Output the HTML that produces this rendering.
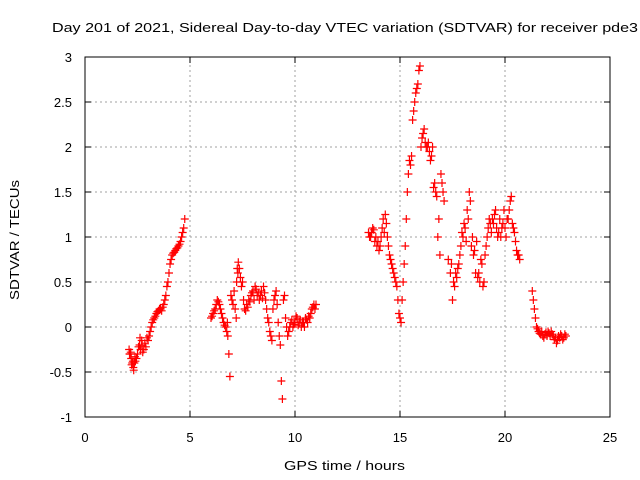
<!DOCTYPE html>
<html><head><meta charset="utf-8"><style>
body{margin:0;background:#fff}
svg{display:block;font-family:"Liberation Sans",sans-serif;font-size:13px}
</style></head><body>
<svg id="c" width="640" height="480">
<text x="52" y="32" textLength="586" lengthAdjust="spacingAndGlyphs">Day 201 of 2021, Sidereal Day-to-day VTEC variation (SDTVAR) for receiver pde3</text>
<text x="284" y="470" textLength="121" lengthAdjust="spacingAndGlyphs">GPS time / hours</text>
<text transform="translate(19,300) rotate(-90)" textLength="120" lengthAdjust="spacingAndGlyphs">SDTVAR / TECUs</text>
<g id="grid"></g><g id="pts"></g><g id="axes"></g>
</svg>
<script>
const xTicks=[0,5,10,15,20,25];
const yTicks=[-1,-0.5,0,0.5,1,1.5,2,2.5,3];
const yTickLabels=["-1","-0.5","0","0.5","1","1.5","2","2.5","3"];
const times=[2.1,2.15,2.2,2.25,2.3,2.35,2.4,2.5,2.6,2.7,2.8,2.9,3.0,3.1,3.2,3.3,3.4,3.5,3.6,3.7,3.8,3.9,4.0,4.1,4.2,4.3,4.4,4.5,4.6,4.65,4.7,4.75,
6.0,6.1,6.2,6.3,6.4,6.5,6.6,6.7,6.8,6.85,6.9,7.0,7.1,7.2,7.25,7.3,7.4,7.5,7.6,7.7,7.8,7.9,8.0,8.1,8.2,8.3,8.4,8.5,8.6,8.7,8.8,8.9,9.0,9.1,9.2,9.3,9.35,9.4,9.5,9.6,9.7,9.8,9.9,10.0,10.1,10.2,10.3,10.4,10.5,10.6,10.7,10.8,10.9,11.0,
13.5,13.6,13.7,13.8,13.9,14.0,14.1,14.2,14.3,14.4,14.5,14.6,14.7,14.8,14.9,15.0,15.05,15.1,15.2,15.3,15.35,15.4,15.5,15.6,15.7,15.8,15.9,15.95,16.0,16.1,16.2,16.3,16.4,16.5,16.6,16.7,16.8,16.9,17.0,17.1,17.3,17.4,17.5,17.6,17.7,17.8,17.9,18.0,18.1,18.2,18.3,18.4,18.5,18.6,18.7,18.8,18.9,19.0,19.1,19.2,19.3,19.4,19.5,19.6,19.7,19.8,19.9,20.0,20.1,20.2,20.3,20.4,20.5,20.6,20.7,21.3,21.35,21.4,21.5,21.6,21.7,21.8,21.9,22.0,22.1,22.2,22.3,22.4,22.5,22.6,22.7,22.8,22.9];
const values=[-0.25,-0.3,-0.35,-0.4,-0.45,-0.4,-0.38,-0.3,-0.2,-0.15,-0.25,-0.22,-0.15,-0.05,0.05,0.1,0.15,0.18,0.2,0.22,0.3,0.45,0.6,0.75,0.82,0.85,0.88,0.92,1.0,1.05,1.1,1.2,
0.1,0.15,0.2,0.3,0.25,0.15,0.05,0.0,-0.1,-0.3,-0.55,0.3,0.4,0.1,0.65,0.72,0.55,0.5,0.2,0.25,0.3,0.35,0.4,0.45,0.35,0.3,0.4,0.45,0.3,0.1,-0.05,-0.15,0.3,0.4,0.05,-0.2,-0.6,-0.8,0.35,0.0,-0.05,0.05,0.0,0.05,0.1,0.05,0.0,0.05,0.1,0.05,0.1,0.2,0.25,0.25,
1.05,1.0,1.1,0.95,0.9,0.85,1.0,1.2,1.25,1.0,0.8,0.7,0.6,0.5,0.3,0.1,0.05,0.3,0.7,1.2,1.5,1.7,1.8,2.3,2.5,2.65,2.85,2.9,2.0,2.15,2.05,2.0,1.95,1.9,1.55,1.5,1.0,0.8,1.6,1.4,0.75,0.6,0.3,0.45,0.55,0.7,0.9,1.0,1.1,1.3,1.5,0.9,0.8,0.6,0.55,0.5,0.7,0.5,0.9,1.1,1.15,1.2,1.25,1.1,1.05,1.0,1.15,1.1,1.2,1.3,1.45,1.1,0.95,0.8,0.75,0.4,0.3,0.2,0.0,-0.05,-0.08,-0.1,-0.08,-0.1,-0.07,-0.05,-0.1,-0.12,-0.15,-0.12,-0.1,-0.12,-0.1];
const extraTimes=[2.12,2.18,2.22,2.28,2.32,2.38,2.45,2.55,2.62,2.65,2.72,2.75,2.85,2.95,3.05,3.15,3.25,3.35,3.45,3.55,3.65,3.75,3.85,3.95,4.05,4.15,4.25,4.35,4.45,4.55,
6.05,6.15,6.25,6.35,6.45,6.55,6.65,6.75,6.78,6.95,7.05,7.15,7.22,7.28,7.35,7.45,7.55,7.65,7.75,7.85,7.95,8.05,8.15,8.25,8.35,8.45,8.55,8.65,8.75,8.85,8.95,9.05,9.15,9.25,9.45,9.55,9.65,9.75,9.85,9.95,10.05,10.15,10.25,10.35,10.45,10.55,10.65,10.75,10.85,10.95,
13.55,13.65,13.75,13.85,13.95,14.05,14.15,14.25,14.35,14.45,14.55,14.65,14.75,14.85,14.95,15.15,15.25,15.45,15.55,15.65,15.75,15.85,16.05,16.15,16.25,16.35,16.45,16.55,16.65,16.75,16.85,16.95,17.05,17.45,17.55,17.65,17.75,17.85,17.95,18.05,18.15,18.25,18.35,18.45,18.55,18.65,18.75,18.85,18.95,19.05,19.15,19.25,19.35,19.45,19.55,19.65,19.75,19.85,19.95,20.05,20.15,20.25,20.35,20.45,20.55,20.65,21.45,21.55,21.65,21.75,21.85,21.95,22.05,22.15,22.25,22.35,22.45,22.55,22.65,22.75,22.85];
const extraValues=[-0.3,-0.28,-0.42,-0.38,-0.48,-0.33,-0.35,-0.22,-0.12,-0.25,-0.2,-0.28,-0.18,-0.12,-0.1,0.0,0.08,0.12,0.17,0.2,0.18,0.25,0.35,0.5,0.7,0.8,0.83,0.87,0.9,0.95,
0.12,0.18,0.25,0.28,0.2,0.1,0.02,-0.05,0.05,0.35,0.25,0.2,0.5,0.6,0.65,0.45,0.3,0.18,0.22,0.28,0.38,0.3,0.42,0.38,0.35,0.32,0.38,0.2,0.05,-0.1,0.2,0.35,0.25,-0.1,0.3,0.1,-0.1,0.0,0.08,0.03,0.12,0.02,0.08,0.05,0.0,0.08,0.12,0.15,0.22,0.2,
1.0,1.05,1.08,1.0,0.95,0.9,1.1,1.05,1.15,0.9,0.75,0.65,0.55,0.45,0.15,0.5,0.9,1.85,1.9,2.4,2.6,2.7,2.1,2.2,2.0,2.05,1.85,2.0,1.6,1.45,1.2,1.7,1.5,0.7,0.5,0.6,0.65,0.8,1.05,1.15,0.95,1.2,1.4,1.0,0.85,0.95,0.6,0.75,0.45,0.8,1.0,1.2,1.05,1.15,1.3,1.0,1.2,1.1,1.3,1.0,1.2,1.4,1.15,1.05,0.85,0.8,0.1,-0.02,-0.07,-0.05,-0.12,-0.06,-0.05,-0.1,-0.08,-0.14,-0.18,-0.1,-0.08,-0.14,-0.08];
const X0=85,X1=610,Y0=417,Y1=57;
const sx=t=>X0+(t-0)/25*(X1-X0);
const sy=v=>Y0-(v+1)/4*(Y0-Y1);
const NS="http://www.w3.org/2000/svg";
function mk(tag,attrs,parent){const e=document.createElementNS(NS,tag);for(const k in attrs)e.setAttribute(k,attrs[k]);parent.appendChild(e);return e;}
const grid=document.getElementById('grid'),axes=document.getElementById('axes'),pts=document.getElementById('pts');
xTicks.forEach((t,i)=>{const x=sx(t);
 if(i>0&&i<xTicks.length-1){const g=mk('line',{x1:x,y1:Y0,x2:x,y2:Y1,stroke:'#a0a0a0','stroke-dasharray':'2,3'},grid);
 
 }
 mk('line',{x1:x,y1:Y0,x2:x,y2:Y0-6,stroke:'#000'},axes);
 mk('line',{x1:x,y1:Y1,x2:x,y2:Y1+6,stroke:'#000'},axes);
 const l=mk('text',{x:x,y:442,'text-anchor':'middle'},axes);l.textContent=t;
 
 });
yTicks.forEach((v,i)=>{const y=sy(v);
 if(i>0&&i<yTicks.length-1){const g=mk('line',{x1:X0,y1:y,x2:X1,y2:y,stroke:'#a0a0a0','stroke-dasharray':'2,3'},grid);
 
 }
 mk('line',{x1:X0,y1:y,x2:X0+6,y2:y,stroke:'#000'},axes);
 mk('line',{x1:X1,y1:y,x2:X1-6,y2:y,stroke:'#000'},axes);
 const l=mk('text',{x:72,y:y+5,'text-anchor':'end'},axes);l.textContent=yTickLabels[i];
 
 });
const b=mk('rect',{x:X0,y:Y1,width:X1-X0,height:Y0-Y1,fill:'none',stroke:'#000'},axes);


function plus(t,v){const x=sx(t),y=sy(v);
 const p=mk('path',{d:`M${x-4},${y}h8M${x},${y-4}v8`,stroke:'#f00','stroke-width':1.2},pts);
 
 }
times.forEach((t,i)=>plus(t,values[i]));
extraTimes.forEach((t,i)=>plus(t,extraValues[i]));
</script>
</body></html>
